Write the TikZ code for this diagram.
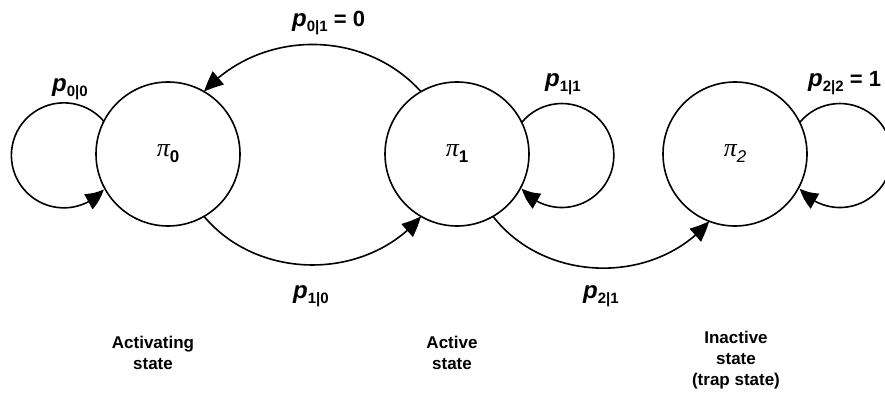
\documentclass[tikz,border=0pt]{standalone}
\usepackage{fontspec}
\setmainfont{Liberation Sans}
\newfontfamily\grkfont{Liberation Serif}
\usetikzlibrary{arrows.meta,bending}
\newcommand\sublab[1]{\raisebox{-5pt}{\fontsize{15}{15}\selectfont\bfseries\upshape #1}}
\newcommand\pilab[1]{{\grkfont\itshape\fontsize{26}{26}\selectfont π}\raisebox{-6pt}{\fontsize{17}{17}\selectfont #1}}
\begin{document}
\begin{tikzpicture}[x=1pt,y=1pt,
  state/.style={circle,draw,line width=1.6pt,minimum size=144pt,inner sep=0pt,outer sep=0pt},
  conn/.style={line width=1.6pt,-{Triangle[length=20pt,width=17pt,bend]}},
  plab/.style={anchor=base west,inner sep=0pt,font=\fontsize{24}{24}\selectfont\bfseries\itshape},
  txt/.style={align=center,inner sep=0pt,font=\fontsize{17}{21}\selectfont\bfseries}]
\useasboundingbox (0,0) rectangle (885,394);
\clip (0,0) rectangle (885,394);
% states
\node[state] (p0) at (168,240) {\pilab{\bfseries 0}};
\node[state] (p1) at (457,240) {\pilab{\bfseries 1}};
\node[state] (p2) at (735,240) {\pilab{\itshape 2}};
% self loops
\draw[conn] (p0.153) arc[start angle=40.4,end angle=319.6,radius=52.5];
\draw[conn] (p1.26) arc[start angle=140.5,end angle=-140.5,radius=52];
\draw[conn] (p2.26) arc[start angle=140.5,end angle=-140.5,radius=52];
% transitions
\draw[conn] (p1.120) to[bend right=48] (p0.60);
\draw[conn] (p0.-60) to[bend right=50] (p1.-120);
\draw[conn] (p1.-60) to[bend right=51] (p2.-111);
% probability labels
\node[plab] (l00) at (52,302) {p\sublab{0|0}};
\node[plab] (l01) at (292,367.5) {p\sublab{0|1}\upshape\fontsize{22}{22}\selectfont{} = 0};
\node[plab] (l11) at (545,307.5) {p\sublab{1|1}};
\node[plab] (l22) at (808,307.5) {p\sublab{2|2}\upshape\fontsize{22}{22}\selectfont{} = 1};
\node[plab] (l10) at (293,95.5) {p\sublab{1|0}};
\node[plab] (l21) at (583,95.5) {p\sublab{2|1}};
% state descriptions
\node[txt] (t0) at (153,41) {Activating\\state};
\node[txt] (t1) at (452,41) {Active\\state};
\node[txt] (t2) at (736,34) {Inactive\\state\\(trap state)};
\end{tikzpicture}
\end{document}
